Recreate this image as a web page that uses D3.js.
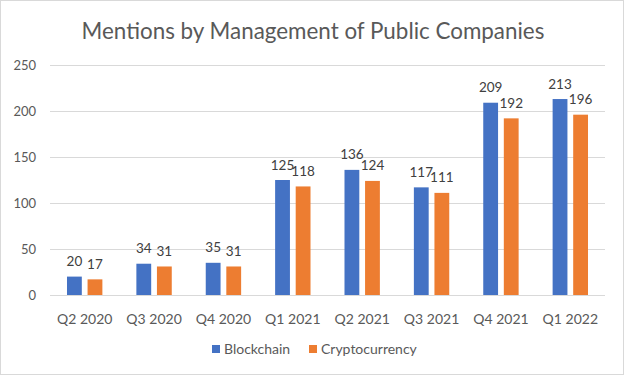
<!DOCTYPE html>
<html>
<head>
<meta charset="utf-8">
<script src="https://cdn.jsdelivr.net/npm/d3@7"></script>
<style>
  body { margin: 0; background: #fff; }
  text { font-family: Lato, "Open Sans", sans-serif; }
</style>
</head>
<body>
<div id="chart"></div>
<script>
// chart data
const quarters = ["Q2 2020", "Q3 2020", "Q4 2020", "Q1 2021", "Q2 2021", "Q3 2021", "Q4 2021", "Q1 2022"]
const blockchain = [20, 34, 35, 125, 136, 117, 209, 213]
const crypto = [17, 31, 31, 118, 124, 111, 192, 196]
const seriesNames = ["Blockchain", "Cryptocurrency"]
const yTicks = [0, 50, 100, 150, 200, 250]

const colors = ["#4472C4", "#ED7D31"]
const W = 624, H = 375
const margin = { top: 65, right: 19, bottom: 80, left: 50 }

const svg = d3.select("#chart").append("svg")
  .attr("width", W)
  .attr("height", H)

// outer frame
svg.append("rect")
  .attr("x", 0.5).attr("y", 0.5)
  .attr("width", W - 1).attr("height", H - 1)
  .attr("fill", "#fff")
  .attr("stroke", "#d9d9d9")

svg.append("text")
  .attr("x", W / 2 + 1)
  .attr("y", 39)
  .attr("text-anchor", "middle")
  .attr("font-size", 22.4)
  .attr("fill", "#595959")
  .text("Mentions by Management of Public Companies")

const g = svg.append("g")
  .attr("transform", "translate(" + margin.left + "," + margin.top + ")")

const width = W - margin.left - margin.right
const height = 295 - margin.top

const x = d3.scaleBand().domain(quarters).range([0, width]).paddingInner(0.49).paddingOuter(0.245)
const x1 = d3.scaleBand().domain(seriesNames).range([0, x.bandwidth()]).paddingInner(0.28)
const y = d3.scaleLinear().domain([0, 250]).range([height, 0])

// gridlines
g.selectAll(".grid").data(yTicks).join("line")
  .attr("x1", 0).attr("x2", width)
  .attr("y1", d => Math.round(y(d)) + 0.5).attr("y2", d => Math.round(y(d)) + 0.5)
  .attr("stroke", "#d9d9d9")

// y axis labels
const yAxis = g.append("g")
  .call(d3.axisLeft(y).tickValues(yTicks).tickSize(0).tickPadding(14))
yAxis.select(".domain").remove()
yAxis.selectAll("text").attr("font-size", 13).attr("fill", "#595959").attr("font-family", "Lato, sans-serif")

// x axis labels
const xAxis = g.append("g")
  .attr("transform", "translate(0," + height + ")")
  .call(d3.axisBottom(x).tickSize(0).tickPadding(19))
xAxis.select(".domain").remove()
xAxis.selectAll("text").attr("font-size", 14).attr("fill", "#595959").attr("font-family", "Lato, sans-serif")

const rows = quarters.map((q, i) => ({ q: q, vals: [blockchain[i], crypto[i]] }))

const groups = g.selectAll(".grp").data(rows).join("g")
  .attr("transform", d => "translate(" + x(d.q) + ",0)")

groups.selectAll("rect").data(d => d.vals.map((v, j) => ({ name: seriesNames[j], v: v, j: j }))).join("rect")
  .attr("x", d => x1(d.name))
  .attr("y", d => y(d.v))
  .attr("width", x1.bandwidth())
  .attr("height", d => height - y(d.v))
  .attr("fill", d => colors[d.j])

groups.selectAll(".lbl").data(d => d.vals.map((v, j) => ({ name: seriesNames[j], v: v }))).join("text")
  .attr("x", d => x1(d.name) + x1.bandwidth() / 2)
  .attr("y", d => y(d.v) - 10.5)
  .attr("text-anchor", "middle")
  .attr("font-size", 13.5)
  .attr("fill", "#404040")
  .text(d => d.v)

// legend
const legend = svg.append("g").attr("transform", "translate(0,353)")
const legendX = [212, 309]
seriesNames.forEach((n, i) => {
  legend.append("rect")
    .attr("x", legendX[i]).attr("y", -8)
    .attr("width", 8).attr("height", 8)
    .attr("fill", colors[i])
  legend.append("text")
    .attr("x", legendX[i] + 12).attr("y", 1)
    .attr("font-size", 14)
    .attr("fill", "#595959")
    .text(n)
})
</script>
</body>
</html>
